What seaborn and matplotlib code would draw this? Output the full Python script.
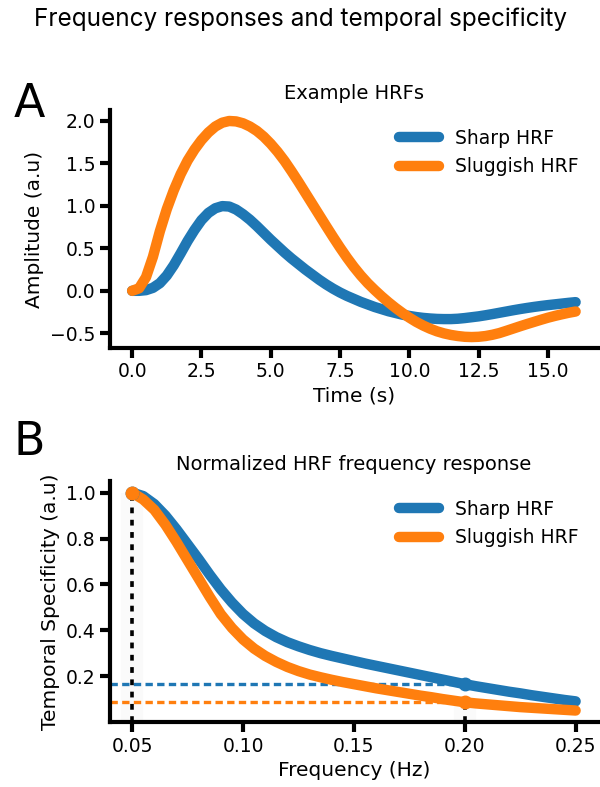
import numpy as np
import pandas as pd
import matplotlib
matplotlib.use("Agg")
import matplotlib.pyplot as plt
import seaborn as sns

# ---------------- data ----------------
time_s = [0.00, 0.25, 0.50, 0.75, 1.00, 1.25, 1.50, 1.75, 2.00, 2.25, 2.50,
          2.75, 3.00, 3.25, 3.50, 3.75, 4.00, 4.25, 4.50, 4.75, 5.00, 5.25,
          5.50, 5.75, 6.00, 6.25, 6.50, 6.75, 7.00, 7.25, 7.50, 7.75, 8.00,
          8.25, 8.50, 8.75, 9.00, 9.25, 9.50, 9.75, 10.00, 10.25, 10.50,
          10.75, 11.00, 11.25, 11.50, 11.75, 12.00, 12.25, 12.50, 12.75,
          13.00, 13.25, 13.50, 13.75, 14.00, 14.25, 14.50, 14.75, 15.00,
          15.25, 15.50, 15.75, 16.00]
sharp_hrf = [0.000, 0.000, 0.008, 0.035, 0.090, 0.180, 0.300, 0.440, 0.585,
             0.715, 0.830, 0.915, 0.970, 0.995, 0.990, 0.955, 0.900, 0.835,
             0.760, 0.680, 0.600, 0.525, 0.450, 0.380, 0.315, 0.250, 0.190,
             0.130, 0.075, 0.025, -0.020, -0.060, -0.095, -0.130, -0.160,
             -0.190, -0.215, -0.240, -0.260, -0.280, -0.295, -0.308, -0.318,
             -0.325, -0.330, -0.332, -0.332, -0.328, -0.320, -0.310, -0.300,
             -0.287, -0.273, -0.258, -0.243, -0.228, -0.214, -0.201, -0.189,
             -0.178, -0.168, -0.159, -0.150, -0.141, -0.133]
sluggish_hrf = [0.000, 0.030, 0.160, 0.400, 0.700, 0.960, 1.180, 1.370, 1.530,
                1.660, 1.770, 1.860, 1.930, 1.975, 1.995, 1.990, 1.968, 1.930,
                1.878, 1.810, 1.727, 1.632, 1.525, 1.405, 1.280, 1.150, 1.020,
                0.890, 0.760, 0.632, 0.508, 0.390, 0.280, 0.180, 0.090, 0.010,
                -0.065, -0.135, -0.200, -0.260, -0.315, -0.365, -0.408, -0.445,
                -0.476, -0.500, -0.518, -0.531, -0.540, -0.543, -0.540, -0.531,
                -0.516, -0.496, -0.470, -0.443, -0.416, -0.390, -0.365, -0.340,
                -0.316, -0.295, -0.276, -0.258, -0.243]

freq_hz = [0.050, 0.055, 0.060, 0.065, 0.070, 0.075, 0.080, 0.085, 0.090,
           0.095, 0.100, 0.105, 0.110, 0.115, 0.120, 0.125, 0.130, 0.135,
           0.140, 0.145, 0.150, 0.155, 0.160, 0.165, 0.170, 0.175, 0.180,
           0.185, 0.190, 0.195, 0.200, 0.205, 0.210, 0.215, 0.220, 0.225,
           0.230, 0.235, 0.240, 0.245, 0.250]
sharp_spec = [1.000, 0.985, 0.950, 0.900, 0.840, 0.775, 0.710, 0.642, 0.578,
              0.521, 0.471, 0.430, 0.397, 0.370, 0.348, 0.330, 0.314, 0.300,
              0.288, 0.277, 0.266, 0.255, 0.245, 0.235, 0.225, 0.215, 0.205,
              0.195, 0.185, 0.175, 0.165, 0.156, 0.148, 0.140, 0.132, 0.125,
              0.117, 0.110, 0.103, 0.096, 0.090]
sluggish_spec = [1.000, 0.970, 0.925, 0.860, 0.785, 0.705, 0.625, 0.545, 0.470,
                 0.410, 0.360, 0.320, 0.288, 0.262, 0.240, 0.222, 0.207, 0.195,
                 0.184, 0.174, 0.165, 0.156, 0.147, 0.139, 0.131, 0.123, 0.115,
                 0.108, 0.100, 0.093, 0.086, 0.081, 0.077, 0.073, 0.069, 0.065,
                 0.062, 0.059, 0.056, 0.053, 0.050]

series_names = ["Sharp HRF", "Sluggish HRF"]
ref_freq = 0.05
cut_freq = 0.20

# ---------------- style ----------------
sns.set_theme(style="ticks")
plt.rcParams['font.family'] = ['DejaVu Sans']
plt.rcParams.update({
    "axes.linewidth": 3.0,
    "xtick.major.width": 3.0,
    "ytick.major.width": 3.0,
    "xtick.major.size": 7,
    "ytick.major.size": 7,
    "xtick.labelsize": 13.5,
    "ytick.labelsize": 13.5,
    "axes.edgecolor": "black",
    "xtick.color": "black",
    "ytick.color": "black",
    "text.color": "black",
    "axes.labelcolor": "black",
    "lines.solid_joinstyle": "round",
})

palette = {"Sharp HRF": "#1f77b4", "Sluggish HRF": "#ff7f0e"}
LW = 7.5
leg_kw = dict(frameon=False, fontsize=13.5, handlelength=2.1,
              loc="upper right", borderaxespad=0.6, handletextpad=0.9)

fig = plt.figure(figsize=(6.0, 7.87), dpi=100)
axA = fig.add_axes([0.1833, 0.558, 0.813, 0.302])
axB = fig.add_axes([0.1833, 0.0826, 0.813, 0.306])

# ---- Panel A ----
dfA = pd.DataFrame({
    "Time (s)": time_s * 2,
    "Amplitude": sharp_hrf + sluggish_hrf,
    "HRF": [series_names[0]] * len(time_s) + [series_names[1]] * len(time_s),
})
sns.lineplot(data=dfA, x="Time (s)", y="Amplitude", hue="HRF", palette=palette,
             linewidth=LW, ax=axA)
axA.set_xlabel("Time (s)", fontsize=14.5)
axA.set_ylabel("Amplitude (a.u)", fontsize=14.5)
axA.set_title("Example HRFs", fontsize=14, pad=8)
axA.set_xticks([0, 2.5, 5, 7.5, 10, 12.5, 15])
axA.set_yticks([-0.5, 0, 0.5, 1.0, 1.5, 2.0])
axA.legend(**leg_kw)
sns.despine(ax=axA)

# ---- Panel B ----
dfB = pd.DataFrame({
    "Frequency (Hz)": freq_hz * 2,
    "Spec": sharp_spec + sluggish_spec,
    "HRF": [series_names[0]] * len(freq_hz) + [series_names[1]] * len(freq_hz),
})
sns.lineplot(data=dfB, x="Frequency (Hz)", y="Spec", hue="HRF", palette=palette,
             linewidth=LW, ax=axB)

cut_idx = int(np.argmin(np.abs(np.array(freq_hz) - cut_freq)))
cut_vals = [sharp_spec[cut_idx], sluggish_spec[cut_idx]]
xmin_B = 0.04
dash = (2.2, 1.3)
# faint shadow behind the guide lines
axB.plot([ref_freq, ref_freq], [0, 1.0], color="0.5", lw=16, alpha=0.04,
         zorder=0, solid_capstyle="butt")
axB.plot([cut_freq, cut_freq], [0, cut_vals[1]], color="0.5", lw=16,
         alpha=0.04, zorder=0, solid_capstyle="butt")
for name, v in zip(series_names, cut_vals):
    axB.plot([xmin_B, cut_freq], [v, v], color=palette[name], lw=2.4,
             dashes=dash, zorder=1)
axB.plot([ref_freq, ref_freq], [0, 1.0], color="black", lw=2.6,
         dashes=(1.6, 1.8), zorder=3)
axB.plot([cut_freq, cut_freq], [0, cut_vals[1]], color="black", lw=2.6,
         dashes=(1.6, 1.8), zorder=1)
for name, v in zip(series_names, cut_vals):
    axB.plot([cut_freq], [v], "o", color=palette[name], ms=9, zorder=4)
axB.plot([ref_freq], [1.0], "o", color=palette["Sharp HRF"], ms=9, zorder=4)
axB.plot([ref_freq], [1.0], "o", color=palette["Sluggish HRF"], ms=9, zorder=4)

axB.set_xlim(0.04, 0.26)
axB.set_ylim(0.0, 1.05)
axB.set_xticks([0.05, 0.10, 0.15, 0.20, 0.25])
axB.set_yticks([0.2, 0.4, 0.6, 0.8, 1.0])
axB.set_xlabel("Frequency (Hz)", fontsize=14.5)
axB.set_ylabel("Temporal Specificity (a.u)", fontsize=14.5)
axB.set_title("Normalized HRF frequency response", fontsize=14, pad=8)
axB.legend(**leg_kw)
sns.despine(ax=axB)

# panel letters and suptitle
fig.text(0.022, 0.851, "A", fontsize=33, ha="left", va="baseline")
fig.text(0.022, 0.422, "B", fontsize=33, ha="left", va="baseline")
fig.text(0.5, 0.976, "Frequency responses and temporal specificity",
         fontsize=17.5, ha="center", va="center", family=["Inter", "DejaVu Sans"])

fig.savefig("out.png", dpi=100)
